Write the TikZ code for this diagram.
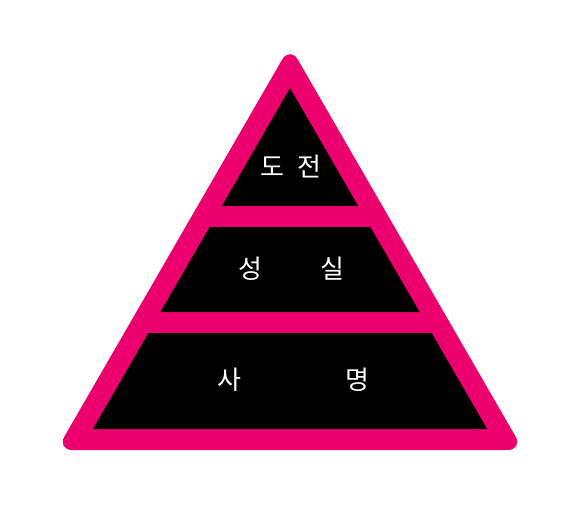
\documentclass[tikz,border=0pt]{standalone}
\usepackage{fontspec}
\newfontfamily\kr{Noto Sans CJK KR}
\definecolor{pinkband}{RGB}{236,0,110}
\begin{document}
\begin{tikzpicture}[x=1pt,y=-1pt,
  tier/.style={fill=black,draw=none},
  lbl/.style={text=white,font=\kr\fontsize{26}{26}\selectfont,inner sep=0pt,anchor=center}]
\useasboundingbox (0,0) rectangle (582,507);
\fill[pinkband,rounded corners=16pt] (290,46) -- (523.4,450) -- (56.6,450) -- cycle;
\path[tier] (290,88) -- (358.1,206) -- (221.9,206) -- cycle;
\path[tier] (209.7,227) -- (370.3,227) -- (419.6,312) -- (160.4,312) -- cycle;
\path[tier] (148.4,333) -- (431.6,333) -- (487.1,429) -- (92.9,429) -- cycle;
\node[lbl] (t1) at (291,167) {도\hspace{13pt}전};
\node[lbl] (t2) at (291.5,269) {성\hspace{58pt}실};
\node[lbl] (t3) at (293.5,380) {사\hspace{104pt}명};
\end{tikzpicture}
\end{document}
